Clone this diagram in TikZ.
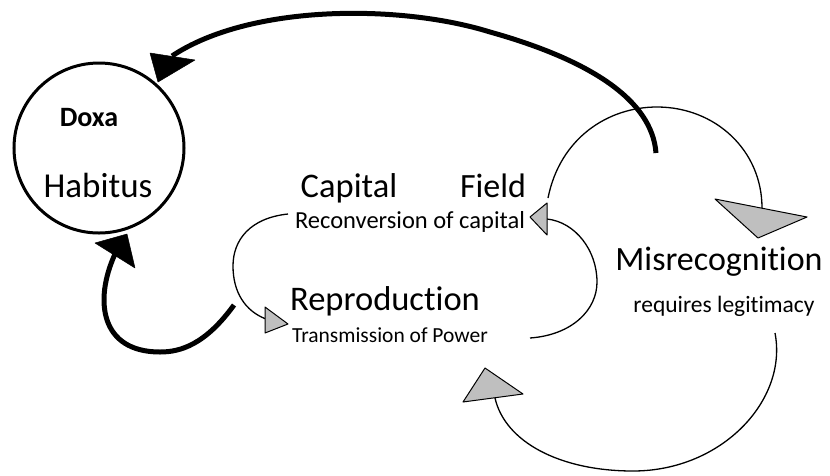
\documentclass[tikz,border=0pt]{standalone}
\usepackage{fontspec}
\setmainfont{Carlito}[Ligatures=NoCommon]
\begin{document}
\begin{tikzpicture}[x=1pt,y=-1pt,
  lbl/.style={inner sep=0pt, anchor=base},
  big/.style={lbl, font=\fontsize{34.5}{34.5}\selectfont},
  thinarc/.style={line width=1.3pt},
  thickarc/.style={line width=5pt},
  greyhead/.style={fill=black!25, draw=black, line width=1pt, line join=round},
  blackhead/.style={fill=black, draw=black, line width=0.5pt, line join=round}]
\useasboundingbox (0,0) rectangle (830,475);

% the habitus circle and its labels
\node[draw, circle, line width=3pt, minimum size=170pt, inner sep=0pt] (circ) at (99,148) {};
\node[lbl, font=\fontsize{28}{28}\selectfont\bfseries] (doxa) at (89,126) {Doxa};
\node[big, font=\fontsize{35}{35}\selectfont] (habitus) at (98,197) {Habitus};

% central labels
\node[big] (capital) at (349,197) {Capital};
\node[big, font=\fontsize{34}{34}\selectfont] (field) at (493,197) {Field};
\node[lbl, font=\fontsize{24.5}{24.5}\selectfont] (reconv) at (410,228) {Reconversion of capital};
\node[big] (repro) at (385,310) {Reproduction};
\node[lbl, font=\fontsize{21.5}{21.5}\selectfont] (trans) at (390,342) {Transmission of Power};
\node[lbl, font=\fontsize{34}{34}\selectfont] (misrec) at (719,270) {Misrecognition};
\node[lbl, font=\fontsize{23.5}{23.5}\selectfont] (legit) at (724,312) {requires legitimacy};

% connector end points
\coordinate (a1s) at (288,214);
\coordinate (a1e) at (266,319);
\coordinate (a2s) at (530,338);
\coordinate (a2e) at (547,219);
\coordinate (a3s) at (548,198);
\coordinate (a3e) at (762,208);
\coordinate (a4s) at (775,333);
\coordinate (a4e) at (495,398);
\coordinate (t1s) at (656,153);
\coordinate (t1e) at (172,56);
\coordinate (t2s) at (234,305);
\coordinate (t2e) at (115,254);

% thin cycle arcs
\draw[thinarc] (a1s) .. controls (250,218) and (233,240) .. (233,266)
  .. controls (233,292) and (245,311) .. (a1e);
\draw[thinarc] (a2s) .. controls (572,335) and (597,310) .. (597,282)
  .. controls (597,250) and (575,222) .. (a2e);
\draw[thinarc] (a3s) .. controls (560,138) and (608,107) .. (657,107)
  .. controls (715,107) and (762,150) .. (a3e);
\draw[thinarc] (a4s) .. controls (788,400) and (722,471) .. (633,471)
  .. controls (560,471) and (505,442) .. (a4e);

% grey arrow heads
\draw[greyhead] (265,307) -- (288,324) -- (265,333) -- cycle;
\draw[greyhead] (530,217) -- (547,203) -- (547,235) -- cycle;
\draw[greyhead] (715,199) -- (807,217) -- (758,238) -- cycle;
\draw[greyhead] (485,368) -- (523,394) -- (463,402) -- cycle;

% thick return arcs towards the habitus
\draw[thickarc] (t1s) .. controls (652,100) and (590,60) .. (490,32)
  .. controls (400,4) and (250,4) .. (t1e);
\draw[thickarc] (t2s) .. controls (205,345) and (180,352) .. (160,352)
  .. controls (100,352) and (94,300) .. (t2e);

% black arrow heads
\draw[blackhead] (150,53) -- (195,60) -- (158,82) -- cycle;
\draw[blackhead] (95,243) -- (127,234) -- (135,268) -- cycle;
\end{tikzpicture}
\end{document}
